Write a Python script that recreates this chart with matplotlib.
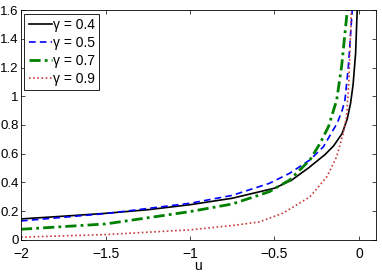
import matplotlib
matplotlib.use("Agg")
import matplotlib.pyplot as plt

u_04 = [-2, -1.75, -1.5, -1.25, -1, -0.75, -0.5, -0.4, -0.3, -0.2, -0.15, -0.1, -0.07, -0.05, -0.035, -0.02, -0.01, -0.005]
g_04 = [0.146, 0.165, 0.185, 0.21, 0.245, 0.29, 0.36, 0.415, 0.5, 0.595, 0.655, 0.74, 0.84, 0.95, 1.08, 1.3, 1.62, 1.8]

u_05 = [-2, -1.5, -1, -0.75, -0.53, -0.41, -0.29, -0.21, -0.153, -0.13, -0.1, -0.083, -0.063, -0.04, -0.03]
g_05 = [0.132, 0.183, 0.255, 0.31, 0.394, 0.464, 0.557, 0.649, 0.765, 0.81, 0.9, 0.974, 1.206, 1.6, 1.8]

u_07 = [-2, -1.5, -1, -0.75, -0.53, -0.41, -0.29, -0.23, -0.18, -0.132, -0.103, -0.069, -0.06]
g_07 = [0.074, 0.111, 0.197, 0.25, 0.336, 0.417, 0.557, 0.673, 0.79, 0.974, 1.206, 1.6, 1.75]

u_09 = [-2, -1.5, -1, -0.75, -0.59, -0.45, -0.29, -0.19, -0.132, -0.093, -0.073, -0.06, -0.045, -0.04]
g_09 = [0.019, 0.037, 0.07, 0.1, 0.125, 0.186, 0.30, 0.44, 0.58, 0.742, 0.86, 1.1, 1.6, 1.75]

xticks = [-2, -1.5, -1, -0.5, 0]
yticks = [0, 0.2, 0.4, 0.6, 0.8, 1, 1.2, 1.4, 1.6]

plt.rcParams['font.family'] = ['Liberation Sans', 'DejaVu Sans']
plt.rcParams['font.size'] = 10

fig = plt.figure(figsize=(3.82, 2.72), dpi=100)
ax = fig.add_axes([0.055, 0.118, 0.929, 0.845])

ax.plot(u_04, g_04, color='black', lw=1.2, label='γ = 0.4')
ax.plot(u_05, g_05, color='blue', lw=1.2, ls=(0, (4, 2.5)), label='γ = 0.5')
ax.plot(u_07, g_07, color='green', lw=2.0, ls=(0, (4, 1.5, 1, 1.5)), label='γ = 0.7')
ax.plot(u_09, g_09, color='#c83c3c', lw=1.2, ls=(0, (1, 1.5)), label='γ = 0.9')

ax.set_xlim(-2, 0.1)
ax.set_ylim(0, 1.6)
ax.set_xticks(xticks)
ax.set_xticklabels(['\u22122', '\u22121.5', '\u22121', '\u22120.5', '0'])
ax.set_yticks(yticks)
ax.set_yticklabels(['0', '0.2', '0.4', '0.6', '0.8', '1', '1.2', '1.4', '1.6'])
ax.tick_params(direction='in', top=True, right=True, length=3, width=0.5)
ax.tick_params(axis='y', pad=1.5, labelsize=9.5)
ax.tick_params(axis='x', pad=5)
for s in ax.spines.values():
    s.set_linewidth(0.6)
ax.set_xlabel('u', labelpad=-1)

leg = ax.legend(loc='upper left', fancybox=False, edgecolor='black', framealpha=1,
                handlelength=1.7, handletextpad=0.05, borderpad=0.3, labelspacing=0.3,
                borderaxespad=0.25, fontsize=10)
leg.get_frame().set_linewidth(0.6)

fig.savefig('out.png', dpi=100)
